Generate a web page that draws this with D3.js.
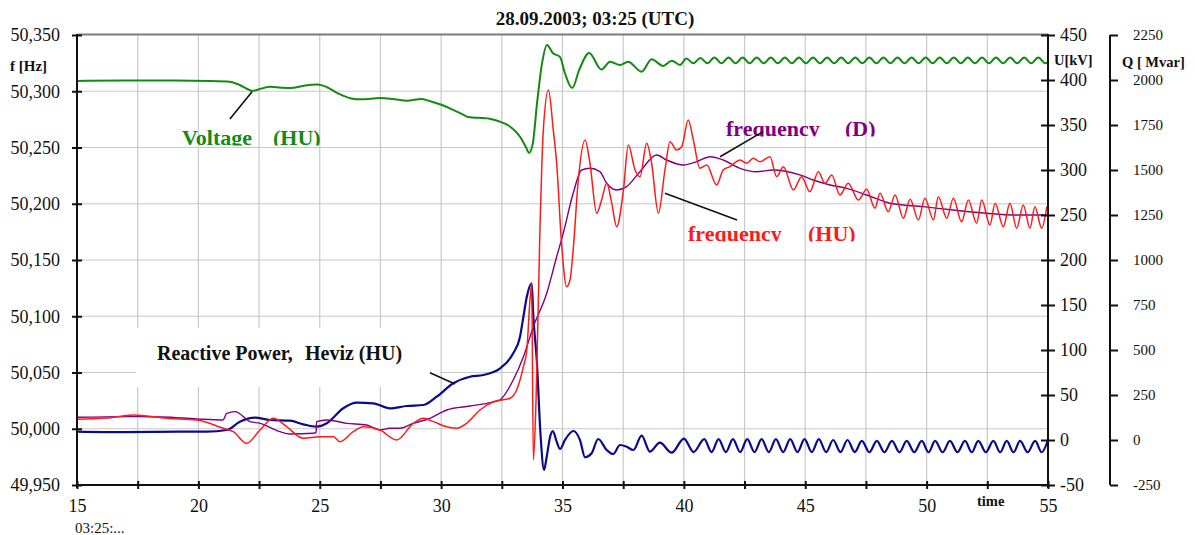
<!DOCTYPE html>
<html>
<head>
<meta charset="utf-8">
<script src="https://cdn.jsdelivr.net/npm/d3@7"></script>
<style>
  body { margin: 0; background: #fff; }
  svg { display: block; font-family: 'Liberation Serif', 'Times New Roman', serif; }
  .grid line { stroke: #c8c8c8; stroke-width: 1.2; }
  .axis text { fill: #111; }
  .axis path, .axis line { stroke: #111; stroke-width: 2; }
</style>
</head>
<body>
<div id="wrapper"></div>
<script>
// 1. Data

const timeTicks = [15, 17.5, 20, 22.5, 25, 27.5, 30, 32.5, 35, 37.5, 40, 42.5, 45, 47.5, 50, 52.5, 55];
const timeLabels = [15, 20, 25, 30, 35, 40, 45, 50, 55];
const fTicks = [49.95, 50.0, 50.05, 50.1, 50.15, 50.2, 50.25, 50.3, 50.35];
const uTicks = [-50, 0, 50, 100, 150, 200, 250, 300, 350, 400, 450];
const qTicks = [-250, 0, 250, 500, 750, 1000, 1250, 1500, 1750, 2000, 2250];

// voltage HU [s, kV]
const voltageHU = [
  [15, 399], [17, 399.5], [19, 399.5], [20.5, 399], [21.3, 398], [21.7, 394.5], [22.25, 388],
  [22.6, 390.5], [22.95, 392.5], [23.4, 391.5], [23.8, 391], [24.4, 394], [24.9, 395],
  [25.3, 392], [25.8, 384.5], [26.3, 379.5], [26.7, 378.5], [27.5, 380], [28, 379],
  [28.6, 377], [29.2, 379], [29.6, 376], [29.95, 373], [30.4, 368], [30.8, 363], [31.1, 359],
  [32, 357], [32.5, 353], [32.85, 348], [33.25, 337], [33.5, 325], [33.62, 319], [33.78, 330],
  [33.95, 374], [34.16, 419], [34.36, 439], [34.6, 430], [34.9, 425.5], [35.1, 407.5],
  [35.4, 391], [35.7, 412], [36.1, 430], [36.6, 411.7], [36.96, 420.4], [37.37, 416.7],
  [37.7, 420.4], [38.26, 409.2], [38.67, 423], [39.15, 415.6], [39.5, 421.5], [39.84, 416.7],
  [40.1, 424], [40.39, 418.5], [40.68, 424.5], [40.97, 418.5], [41.26, 425], [41.55, 418.5],
  [41.84, 425], [42.13, 418.5], [42.42, 425], [42.71, 418.5], [43.0, 425], [43.29, 418.5],
  [43.58, 425], [43.87, 418.5], [44.16, 425], [44.45, 418.5], [44.74, 425], [45.03, 418.5],
  [45.32, 425], [45.61, 418.5], [45.9, 425], [46.19, 418.5], [46.48, 425], [46.77, 418.5],
  [47.06, 425], [47.35, 418.5], [47.64, 425], [47.93, 418.5], [48.22, 425], [48.51, 418.5],
  [48.8, 425], [49.09, 418.5], [49.38, 425], [49.67, 418.5], [49.96, 425], [50.25, 418.5],
  [50.54, 425], [50.83, 418.5], [51.12, 425], [51.41, 418.5], [51.7, 425], [51.99, 418.5],
  [52.28, 425], [52.57, 418.5], [52.86, 425], [53.15, 418.5], [53.44, 425], [53.73, 418.5],
  [54.02, 425], [54.31, 418.5], [54.6, 425], [54.89, 418.5], [55, 420]
];

// frequency D [s, Hz]
const freqD = [
  [15, 50.0102], [17, 50.0108], [18.5, 50.0105], [19.94, 50.0087], [21.01, 50.0078],
  [21.17, 50.0137], [21.51, 50.0152], [22.13, 50.0063], [22.54, 50.0048], [23.36, 49.9974],
  [23.77, 49.9953], [24.73, 49.996], [24.85, 49.9965], [24.87, 50.0063], [25.29, 50.0078],
  [26.11, 50.0048], [26.93, 50.0033], [27.48, 49.9989], [27.89, 50.0004], [28.31, 50.0004],
  [28.85, 50.0048], [29.54, 50.0093], [30.23, 50.0167], [31.19, 50.0202], [31.88, 50.0226],
  [32.43, 50.0256], [32.5, 50.0271], [32.97, 50.0433], [33.39, 50.064], [33.8, 50.0907],
  [34.35, 50.1204], [34.76, 50.1529], [35.03, 50.1737], [35.44, 50.2093], [35.79, 50.23],
  [36.13, 50.2315], [36.54, 50.2285], [36.82, 50.2182], [37.23, 50.2122], [37.64, 50.2152],
  [38.19, 50.2285], [38.88, 50.2433], [39.29, 50.2389], [39.98, 50.2344], [40.53, 50.2374],
  [41.08, 50.2418], [41.62, 50.2389], [42.31, 50.2315], [43.0, 50.2285], [43.68, 50.23],
  [44.78, 50.2256], [45.33, 50.2211], [46.02, 50.2167], [46.71, 50.2137], [47.53, 50.2078],
  [48.49, 50.2004], [49.86, 50.1974], [51.1, 50.1944], [52.47, 50.1915], [53.57, 50.19],
  [55, 50.19]
];

// frequency HU [s, Hz]
const freqHU = [
  [15, 50.0084], [16.2, 50.0095], [17.32, 50.0122], [18.7, 50.0093], [19.93, 50.0078],
  [21.03, 50.0004], [21.44, 49.9974], [21.99, 49.9871], [22.54, 49.9989], [23.09, 50.0093],
  [23.64, 50.0018], [24.32, 49.9915], [25.01, 49.9929], [25.56, 49.9929], [25.83, 49.9885],
  [26.38, 49.9974], [26.79, 50.0018], [27.48, 49.9989], [28.17, 49.99], [28.85, 50.0048],
  [29.27, 50.0093], [29.68, 50.0063], [30.23, 50.0018], [30.64, 50.0004], [31.05, 50.0048],
  [31.6, 50.0167], [32.15, 50.024], [32.84, 50.0271], [33.11, 50.0344], [33.39, 50.0552],
  [33.53, 50.07], [33.66, 50.1144], [33.73, 50.1293], [33.8, 49.9722], [33.91, 50.0256],
  [34.07, 50.1767], [34.21, 50.2656], [34.42, 50.3011], [34.62, 50.2656], [34.76, 50.236],
  [34.97, 50.1618], [35.17, 50.1263], [35.31, 50.1322], [35.45, 50.1618], [35.65, 50.2211],
  [35.93, 50.2567], [36.13, 50.236], [36.41, 50.1915], [36.61, 50.2033], [36.82, 50.2182],
  [37.03, 50.2004], [37.23, 50.1796], [37.51, 50.2122], [37.71, 50.2522], [37.99, 50.23],
  [38.19, 50.224], [38.47, 50.2537], [38.67, 50.236], [38.95, 50.1915], [39.22, 50.23],
  [39.43, 50.2552], [39.7, 50.2478], [39.91, 50.2507], [40.18, 50.2744], [40.39, 50.2567],
  [40.66, 50.2315], [40.94, 50.2344], [41.35, 50.2167], [41.62, 50.23], [41.9, 50.233],
  [42.31, 50.2389], [42.59, 50.236], [42.86, 50.2404], [43.14, 50.2374], [43.55, 50.2418],
  [43.82, 50.2241], [44.1, 50.233], [44.51, 50.2122], [44.85, 50.2241], [45.19, 50.2107],
  [45.54, 50.2285], [45.81, 50.2182], [46.09, 50.2256], [46.43, 50.2078], [46.77, 50.2182],
  [47.19, 50.2033], [47.53, 50.2128], [47.87, 50.196], [48.08, 50.2093], [48.42, 50.1929],
  [48.7, 50.2078], [49.04, 50.1871], [49.32, 50.204], [49.66, 50.1856], [49.93, 50.2048],
  [50.28, 50.1856], [50.48, 50.2063], [50.83, 50.1871], [51.1, 50.2048], [51.44, 50.184],
  [51.72, 50.2033], [52.06, 50.1826], [52.27, 50.2033], [52.61, 50.1811], [52.82, 50.2004],
  [53.16, 50.1796], [53.43, 50.2004], [53.71, 50.1782], [53.98, 50.1989], [54.26, 50.1782],
  [54.46, 50.1974], [54.74, 50.1782], [54.95, 50.1974]
];

// reactive power Heviz HU [s, Mvar]
const reactivePower = [
  [15, 47], [17, 44], [19.24, 46], [20.34, 46], [21.17, 55.6], [21.71, 101.7], [22.33, 123.9],
  [22.95, 111.1], [23.77, 107.2], [24.32, 87.2], [24.87, 73.9], [25.29, 92.8], [25.97, 176.1],
  [26.52, 207.2], [27.21, 203.9], [27.89, 176.1], [28.58, 188.9], [29.27, 194.4],
  [29.82, 240.6], [30.5, 315], [31.19, 351.7], [31.74, 361.1], [32.43, 398.3], [32.97, 481.7],
  [33.25, 573.9], [33.39, 685], [33.53, 796.1], [33.73, 870.6], [33.8, 685], [33.94, 444.4],
  [34.1, 18.3], [34.24, -166.7], [34.35, -92.8], [34.49, 18.3], [34.6, 50], [34.76, -9.4],
  [34.9, -50], [35.1, 0], [35.45, 50], [35.72, 0], [35.93, -96.1], [36.2, -73.9], [36.47, 5.6],
  [36.82, -55.6], [37.09, -77.8], [37.37, -27.8], [37.64, -37.2], [37.92, -55.6],
  [38.26, 23.9], [38.6, -65], [39.01, -15], [39.5, -70.6],
  [40.0, 8], [40.4, -67], [40.84, 5], [41.14, -67], [41.43, 5], [41.73, -67], [42.02, 5],
  [42.32, -67], [42.61, 5], [42.91, -67], [43.2, 5], [43.5, -67], [43.79, 5], [44.09, -67],
  [44.38, 5], [44.68, -67], [44.97, 5], [45.27, -67], [45.56, 5], [45.86, -67], [46.15, 0],
  [46.45, -67], [46.74, 0], [47.04, -67], [47.33, -5], [47.64, -68], [47.95, -5], [48.26, -68],
  [48.57, -5], [48.88, -68], [49.18, -5], [49.49, -68], [49.8, -5], [50.08, -68], [50.35, -5],
  [50.66, -68], [50.96, -5], [51.27, -68], [51.58, -5], [51.86, -68], [52.13, -5],
  [52.44, -68], [52.75, -5], [53.03, -68], [53.3, -5], [53.58, -68], [53.85, -5],
  [54.16, -68], [54.47, -5], [54.74, -68], [55, 0]
];

// 2. Dimensions

const dimensions = {
  width: 1195,
  height: 535,
  left: 77,
  right: 1048,
  top: 35,
  bottom: 485,
  qAxisX: 1110,
};

// 3. Canvas

const svg = d3.select('#wrapper')
  .append('svg')
  .attr('width', dimensions.width)
  .attr('height', dimensions.height);

// 4. Scales

const xScale = d3.scaleLinear().domain([15, 55]).range([dimensions.left, dimensions.right]);
const fScale = d3.scaleLinear().domain([49.95, 50.35]).range([dimensions.bottom, dimensions.top]);
const uScale = d3.scaleLinear().domain([-50, 450]).range([dimensions.bottom, dimensions.top]);
const qScale = d3.scaleLinear().domain([-250, 2250]).range([dimensions.bottom, dimensions.top]);

// 5. Grid

const grid = svg.append('g').attr('class', 'grid');
grid.selectAll('.vgrid')
  .data(timeTicks.slice(1, -1))
  .join('line')
  .attr('x1', (d) => xScale(d)).attr('x2', (d) => xScale(d))
  .attr('y1', dimensions.top).attr('y2', dimensions.bottom);
grid.selectAll('.hgrid')
  .data(fTicks.slice(1, -1))
  .join('line')
  .attr('x1', dimensions.left).attr('x2', dimensions.right)
  .attr('y1', (d) => fScale(d)).attr('y2', (d) => fScale(d));

// white box behind the reactive power label
svg.append('rect')
  .attr('x', 136).attr('y', 328)
  .attr('width', 304).attr('height', 59)
  .attr('fill', '#fff');

// top border
svg.append('line')
  .attr('x1', dimensions.left).attr('x2', dimensions.right)
  .attr('y1', dimensions.top - 0.5).attr('y2', dimensions.top - 0.5)
  .attr('stroke', '#7a7a7a').attr('stroke-width', 2);

// 6. Lines

const curve = d3.curveMonotoneX;
const drawSeries = (data, yScale, color, width) => {
  const lineGenerator = d3.line()
    .x((d) => xScale(d[0]))
    .y((d) => yScale(d[1]))
    .curve(curve);
  svg.append('path')
    .attr('d', lineGenerator(data))
    .attr('fill', 'none')
    .attr('stroke', color)
    .attr('stroke-width', width)
    .attr('stroke-linejoin', 'round');
};

drawSeries(voltageHU, uScale, '#138a13', 2);
drawSeries(reactivePower, qScale, '#0a0a8c', 2.2);
drawSeries(freqD, fScale, '#800080', 1.4);
drawSeries(freqHU, fScale, '#ff1a1a', 1.5);

// 7. Axes

const commaFormat = (d) => d3.format('.3f')(d).replace('.', ',');

const fAxis = svg.append('g')
  .attr('class', 'axis')
  .attr('transform', `translate(${dimensions.left},0)`)
  .call(d3.axisLeft(fScale).tickValues(fTicks).tickFormat(commaFormat).tickSize(0).tickPadding(17))
  .attr('font-size', 18).attr('font-family', null);
fAxis.selectAll('.tick line').attr('x1', -5).attr('x2', 5);
fAxis.select('.domain').attr('d', `M0,${dimensions.top - 1}V${dimensions.bottom + 3}`);

const uAxis = svg.append('g')
  .attr('class', 'axis')
  .attr('transform', `translate(${dimensions.right},0)`)
  .call(d3.axisRight(uScale).tickValues(uTicks).tickFormat((d) => String(d)).tickSize(0).tickPadding(12))
  .attr('font-size', 18).attr('font-family', null);
uAxis.selectAll('.tick line').attr('x1', -7).attr('x2', 7);
uAxis.select('.domain').attr('d', `M0,${dimensions.top - 1}V${dimensions.bottom + 3}`);

const qAxis = svg.append('g')
  .attr('class', 'axis')
  .attr('transform', `translate(${dimensions.qAxisX},0)`)
  .call(d3.axisRight(qScale).tickValues(qTicks).tickFormat((d) => String(d)).tickSize(0).tickPadding(23))
  .attr('font-size', 15).attr('font-family', null);
qAxis.selectAll('.tick line').attr('x1', 0).attr('x2', 8);
qAxis.select('.domain').attr('d', `M0,${dimensions.top}V${dimensions.bottom}`);

const xAxis = svg.append('g')
  .attr('class', 'axis')
  .attr('transform', `translate(0,${dimensions.bottom})`)
  .call(d3.axisBottom(xScale).tickValues(timeTicks)
    .tickFormat((d) => (timeLabels.includes(d) ? String(d) : ''))
    .tickSize(0).tickPadding(14))
  .attr('font-size', 18).attr('font-family', null);
xAxis.selectAll('.tick line').attr('y1', -4).attr('y2', 4);
xAxis.select('.domain').attr('d', `M${dimensions.left},0H${dimensions.right}`).attr('stroke', '#333');

// 8. Peripherals

const addText = (x, y, text, size, weight, color) =>
  svg.append('text')
    .attr('x', x).attr('y', y)
    .attr('font-size', size)
    .attr('font-weight', weight)
    .attr('fill', color)
    .text(text);

addText(595, 25, '28.09.2003; 03:25 (UTC)', 19, 'bold', '#111').attr('text-anchor', 'middle');
addText(10, 71, 'f [Hz]', 15, 'bold', '#111');
addText(1054, 65, 'U[kV]', 14.5, 'bold', '#111');
addText(1122, 67, 'Q [ Mvar]', 14.5, 'bold', '#111');
addText(977, 506, 'time', 14.5, 'bold', '#111');
addText(75, 533, '03:25:...', 15, 'normal', '#111');

// annotation labels (cut off at the baseline as in the original)
const defs = svg.append('defs');
const clipped = (id, x, y, w, h) => {
  defs.append('clipPath').attr('id', id)
    .append('rect').attr('x', x).attr('y', y).attr('width', w).attr('height', h);
  return svg.append('g').attr('clip-path', `url(#${id})`);
};

const labelParts = [
  { id: 'clip-voltage', box: [170, 120, 170, 25.5], color: '#138a13', y: 145, parts: [[182, 'Voltage'], [273, '(HU)']] },
  { id: 'clip-freq-d', box: [715, 110, 180, 26.5], color: '#800080', y: 135.5, parts: [[726, 'frequency'], [845, '(D)']] },
  { id: 'clip-freq-hu', box: [675, 215, 200, 26.5], color: '#ff1a1a', y: 240.5, parts: [[688, 'frequency'], [808, '(HU)']] },
];
labelParts.forEach((label) => {
  const g = clipped(label.id, ...label.box);
  label.parts.forEach(([x, t]) => {
    g.append('text')
      .attr('x', x).attr('y', label.y)
      .attr('font-size', 22)
      .attr('font-weight', 'bold')
      .attr('fill', label.color)
      .text(t);
  });
});

const reactiveLabel = svg.append('text')
  .attr('y', 360)
  .attr('font-size', 20)
  .attr('font-weight', 'bold')
  .attr('fill', '#111');
reactiveLabel.append('tspan').attr('x', 157).text('Reactive Power,');
reactiveLabel.append('tspan').attr('x', 305).text('Heviz (HU)');

// leader lines in data coordinates
const leaders = [
  [xScale(21.3), uScale(356.7), xScale(22.21), uScale(387)],
  [xScale(41.49), fScale(50.2418), xScale(43.26), fScale(50.2641)],
  [xScale(39.22), fScale(50.2093), xScale(42.19), fScale(50.1856)],
  [xScale(29.54), qScale(374), xScale(30.57), qScale(311)],
];
svg.selectAll('.leader')
  .data(leaders)
  .join('line')
  .attr('x1', (d) => d[0]).attr('y1', (d) => d[1])
  .attr('x2', (d) => d[2]).attr('y2', (d) => d[3])
  .attr('stroke', '#111')
  .attr('stroke-width', 1.6);
</script>
</body>
</html>
